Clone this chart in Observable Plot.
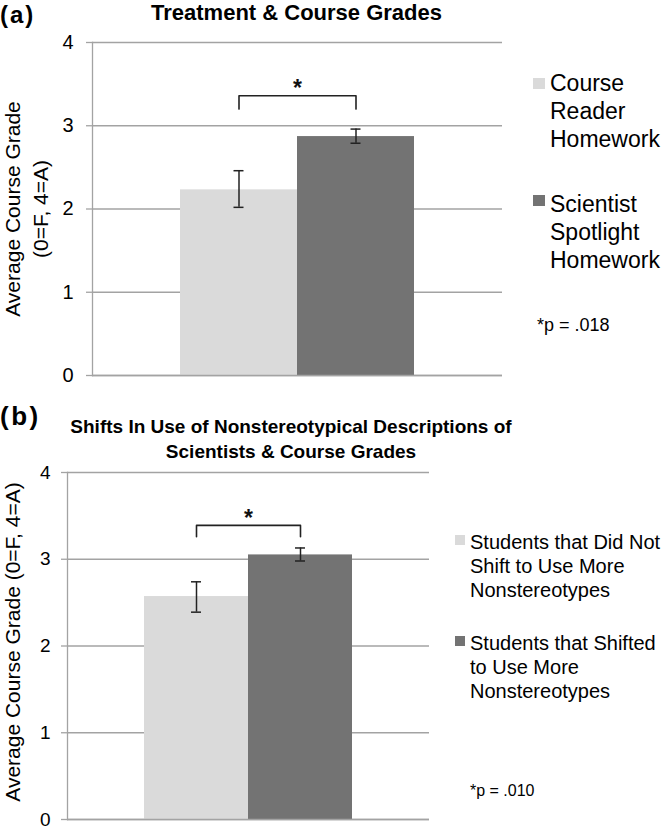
<!DOCTYPE html>
<html>
<head>
<meta charset="utf-8">
<script src="https://cdn.jsdelivr.net/npm/d3@7"></script>
<script src="https://cdn.jsdelivr.net/npm/@observablehq/plot@0.6"></script>
<style>
  html, body { margin: 0; padding: 0; background: #fff; }
  #root { position: relative; width: 667px; height: 830px; overflow: hidden; font-family: "Liberation Sans", Arial, sans-serif; }
  #root > svg, #root > div { position: absolute; }
</style>
</head>
<body>
<div id="root"></div>
<script>
// ---------- data ----------
const yTicks = [0, 1, 2, 3, 4];
const barColors = ["#dadada", "#737373"];

const titleA = "Treatment & Course Grades";
const groupsA = ["Course Reader Homework", "Scientist Spotlight Homework"];
const legendLinesA = [["Course", "Reader", "Homework"], ["Scientist", "Spotlight", "Homework"]];
const meansA = [2.23, 2.87];
const lowA = [2.02, 2.79];
const highA = [2.46, 2.96];
const bracketA = [3.20, 3.36];
const starA = 3.44;
const pTextA = "*p = .018";

const titleB = ["Shifts In Use of Nonstereotypical Descriptions of", "Scientists & Course Grades"];
const groupsB = ["Students that Did Not Shift to Use More Nonstereotypes", "Students that Shifted to Use More Nonstereotypes"];
const legendLinesB = [["Students that Did Not", "Shift to Use More", "Nonstereotypes"], ["Students that Shifted", "to Use More", "Nonstereotypes"]];
const meansB = [2.57, 3.05];
const lowB = [2.39, 2.98];
const highB = [2.74, 3.13];
const bracketB = [3.26, 3.39];
const starB = 3.47;
const pTextB = "*p = .010";

const yTitle = ["Average Course Grade", "(0=F, 4=A)"];

// ---------- helpers ----------
const FONT = '"Liberation Sans", Arial, Helvetica, sans-serif';
const GRID = "#a3a3a3";
const INK = "#222";

function panel(o) {
  const data = o.groups.map((g, i) => ({g, m: o.means[i], lo: o.low[i], hi: o.high[i]}));
  const br = [
    {g: o.groups[0], y: o.bracket[0]}, {g: o.groups[0], y: o.bracket[1]},
    {g: o.groups[1], y: o.bracket[1]}, {g: o.groups[1], y: o.bracket[0]}
  ];
  const step = (o.width - o.ml - o.mr) / (o.groups.length + 2 * o.po);
  const capInset = (step - 10) / 2;
  return Plot.plot({
    width: o.width, height: o.height,
    marginLeft: o.ml, marginRight: o.mr, marginTop: o.mt, marginBottom: o.mb,
    style: {fontFamily: FONT, fontSize: o.tickFont + "px", color: "#000", background: "transparent", overflow: "visible"},
    x: {domain: o.groups, axis: null, paddingInner: 0, paddingOuter: o.po},
    y: {domain: [0, 4], axis: null},
    color: {domain: o.groups, range: barColors},
    marks: [
      Plot.ruleY(yTicks, {stroke: GRID, strokeWidth: 1.3}),
      Plot.barY(data, {x: "g", y: "m", fill: "g"}),
      Plot.ruleY([0], {stroke: GRID, strokeWidth: 1.3}),
      Plot.frame({anchor: "left", stroke: GRID, strokeWidth: 1.3}),
      Plot.axisY({ticks: yTicks, tickSize: 6, tickPadding: o.tickPad, stroke: GRID, strokeWidth: 1.3, tickFormat: d => String(d), label: null, fontSize: o.tickFont}),
      Plot.ruleX(data, {x: "g", y1: "lo", y2: "hi", stroke: INK, strokeWidth: 1.5}),
      Plot.tickY(data, {x: "g", y: "hi", stroke: INK, strokeWidth: 1.5, insetLeft: capInset, insetRight: capInset}),
      Plot.tickY(data, {x: "g", y: "lo", stroke: INK, strokeWidth: 1.5, insetLeft: capInset, insetRight: capInset}),
      Plot.line(br, {x: "g", y: "y", stroke: INK, strokeWidth: 1.6, curve: "linear"}),
      Plot.text([{t: "*", y: o.star}], {text: "t", y: "y", frameAnchor: "middle", fontSize: 23, fontWeight: "bold", fill: "#111"})
    ]
  });
}

const root = document.getElementById("root");

const plotA = panel({groups: groupsA, means: meansA, low: lowA, high: highA, bracket: bracketA, star: starA,
  width: 520, height: 390, ml: 92, mr: 18, mt: 42, mb: 15, po: 0.752, tickFont: 20, tickPad: 13});
plotA.style.left = "0px"; plotA.style.top = "0px";
root.appendChild(plotA);

const plotB = panel({groups: groupsB, means: meansB, low: lowB, high: highB, bracket: bracketB, star: starB,
  width: 440, height: 390, ml: 67, mr: 11, mt: 32, mb: 11, po: 0.74, tickFont: 19, tickPad: 11});
plotB.style.left = "0px"; plotB.style.top = "440px";
root.appendChild(plotB);

// ---------- overlay: titles, legends, axis titles, notes ----------
const ov = d3.create("svg").attr("width", 667).attr("height", 830)
  .style("left", "0px").style("top", "0px").style("pointer-events", "none")
  .attr("font-family", FONT).attr("fill", "#000");

function txt(x, y, s, size, opts = {}) {
  const t = ov.append("text").attr("x", x).attr("y", y).attr("font-size", size).text(s);
  if (opts.bold) t.attr("font-weight", "bold");
  if (opts.anchor) t.attr("text-anchor", opts.anchor);
  if (opts.ls) t.attr("letter-spacing", opts.ls);
  if (opts.transform) t.attr("transform", opts.transform);
  return t;
}

// Panel (a)
txt(0, 23, "(a)", 24, {bold: true, ls: 2});
txt(296.5, 20, titleA, 22, {bold: true, anchor: "middle"});
txt(0, 0, yTitle[0], 21, {anchor: "middle", transform: "translate(20,209) rotate(-90)"});
txt(0, 0, yTitle[1], 21, {anchor: "middle", transform: "translate(47.5,209) rotate(-90)"});
const legA = [{sq: 78, base: 90.5}, {sq: 195, base: 212}];
legA.forEach((l, i) => {
  ov.append("rect").attr("x", 533).attr("y", l.sq).attr("width", 12).attr("height", 11).attr("fill", barColors[i]);
  legendLinesA[i].forEach((s, j) => txt(550, l.base + j * 28, s, 23));
});
txt(537, 331, pTextA, 18);

// Panel (b)
txt(0, 425, "(b)", 26, {bold: true, ls: 2.5});
titleB.forEach((s, j) => txt(291, 433 + j * 25, s, 19, {bold: true, anchor: "middle"}));
txt(0, 0, yTitle.join(" "), 21, {anchor: "middle", transform: "translate(20,642) rotate(-90)"});
const legB = [{sq: 535, base: 548.5}, {sq: 636, base: 650}];
legB.forEach((l, i) => {
  ov.append("rect").attr("x", 455).attr("y", l.sq).attr("width", 10).attr("height", 10).attr("fill", barColors[i]);
  legendLinesB[i].forEach((s, j) => txt(470, l.base + j * 24, s, 20));
});
txt(470, 796, pTextB, 16);

root.appendChild(ov.node());
</script>
</body>
</html>
